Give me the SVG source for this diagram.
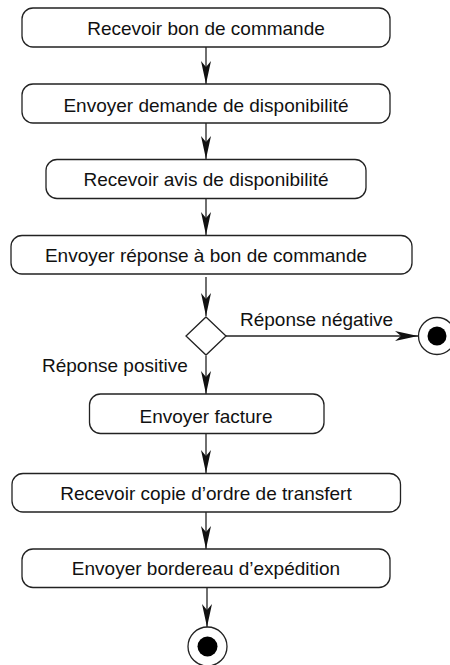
<svg xmlns="http://www.w3.org/2000/svg" width="450" height="665" viewBox="0 0 450 665">
<style>
.act rect{fill:#fff;stroke:#222;stroke-width:1.3}
text{font-family:"Liberation Sans",Arial,sans-serif;font-size:19px;fill:#111}
.act text{text-anchor:middle}
.conn line{stroke:#222;stroke-width:1.3;marker-end:url(#ah)}
.final .o{fill:#fff;stroke:#222;stroke-width:1.3}
.final .i{fill:#000}
</style>
<defs>
<marker id="ah" markerUnits="userSpaceOnUse" markerWidth="24" markerHeight="12" viewBox="-23 -6 24 12" refX="0" refY="0" orient="auto">
<path d="M0,0 L-23,-5 L-17,0 L-23,5 Z" fill="#111"/>
</marker>
</defs>
<rect width="450" height="665" fill="#fff"/>
<g id="connectors" class="conn">
<line x1="206" y1="47" x2="206" y2="84"/>
<line x1="206" y1="123" x2="206" y2="159"/>
<line x1="206" y1="199" x2="206" y2="235"/>
<line x1="206" y1="277" x2="206" y2="316"/>
<line x1="226" y1="336" x2="418" y2="336"/>
<line x1="206" y1="356" x2="206" y2="394"/>
<line x1="206" y1="434" x2="206" y2="473"/>
<line x1="206" y1="512" x2="206" y2="549"/>
<line x1="207" y1="588" x2="207" y2="627"/>
</g>
<text x="240" y="326">Réponse négative</text>
<text x="42" y="372">Réponse positive</text>
<g id="a1" class="act"><rect x="22" y="8" width="368" height="39" rx="11"/><text x="206" y="35">Recevoir bon de commande</text></g>
<g id="a2" class="act"><rect x="22" y="84" width="368" height="39" rx="11"/><text x="206" y="112">Envoyer demande de disponibilité</text></g>
<g id="a3" class="act"><rect x="46" y="159.5" width="320" height="39" rx="11"/><text x="206" y="186">Recevoir avis de disponibilité</text></g>
<g id="a4" class="act"><rect x="11" y="235.5" width="401" height="38.5" rx="11"/><text x="206" y="262">Envoyer réponse à bon de commande</text></g>
<g id="decision"><polygon points="206,317 226,336 206,355 186,336" fill="#fff" stroke="#222" stroke-width="1.3"/></g>
<g id="a5" class="act"><rect x="89.5" y="394" width="234.5" height="39.5" rx="11"/><text x="206" y="423">Envoyer facture</text></g>
<g id="a6" class="act"><rect x="12" y="473.5" width="388.5" height="38.5" rx="11"/><text x="206" y="499.5">Recevoir copie d’ordre de transfert</text></g>
<g id="a7" class="act"><rect x="22" y="549" width="368" height="38.5" rx="11"/><text x="206" y="575">Envoyer bordereau d’expédition</text></g>
<g id="final1" class="final"><circle class="o" cx="437" cy="336" r="18.5"/><circle class="i" cx="437" cy="336" r="9.5"/></g>
<g id="final2" class="final"><circle class="o" cx="207.5" cy="646.5" r="19.5"/><circle class="i" cx="207.5" cy="646.5" r="10"/></g>
</svg>
